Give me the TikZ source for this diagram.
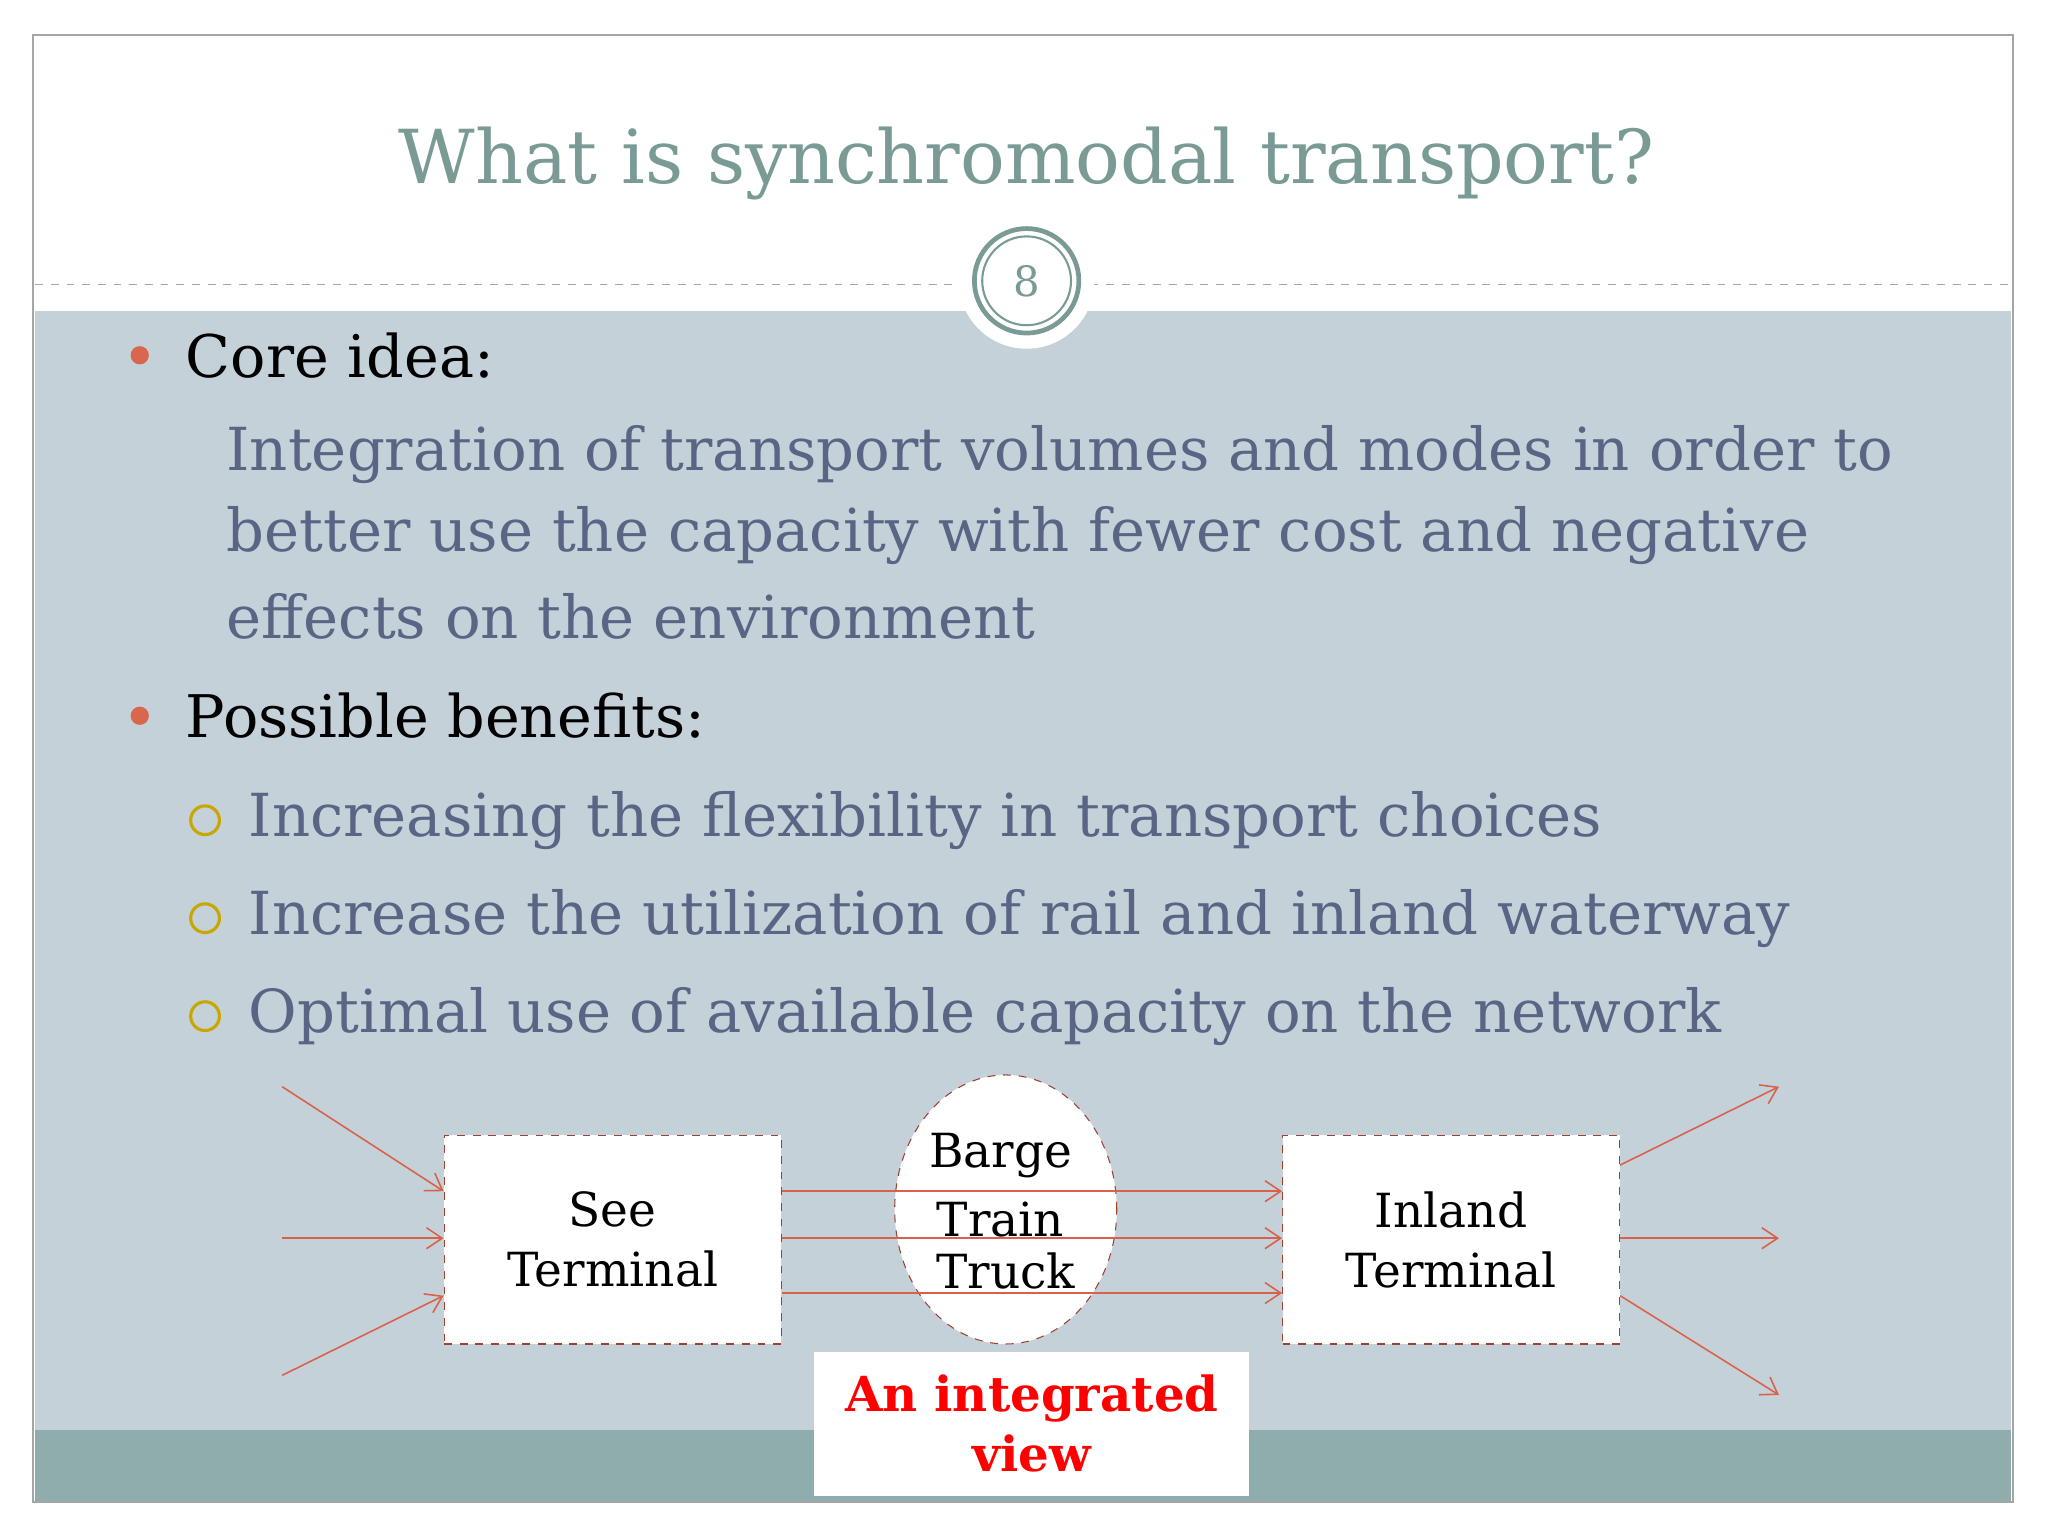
\documentclass[tikz,border=0pt]{standalone}
\usepackage{fontspec}
\setmainfont{DejaVu Serif}
\usetikzlibrary{shapes.geometric,arrows.meta}
\definecolor{bgblue}{HTML}{C5D1D8}
\definecolor{band}{HTML}{8FADAD}
\definecolor{titlec}{HTML}{7A9A95}
\definecolor{bodyc}{HTML}{5A6585}
\definecolor{arr}{HTML}{D9614A}
\definecolor{boxb}{HTML}{A04030}
\definecolor{dotc}{HTML}{D9674E}
\definecolor{subc}{HTML}{C8A800}
\tikzset{
  body/.style={anchor=west,font=\fontsize{22.7}{30}\selectfont,text=bodyc,inner sep=0},
  head/.style={anchor=west,font=\fontsize{22.5}{30}\selectfont,text=black,inner sep=0},
  term/.style={draw=boxb,dashed,fill=white,minimum width=129pt,minimum height=80pt,align=center,font=\fontsize{18}{23}\selectfont},
  conn/.style={draw=arr,line width=0.6pt,-{Straight Barb[length=6pt,width=8pt]}},
  mode/.style={font=\fontsize{18}{22}\selectfont,inner sep=0}
}
\begin{document}
\begin{tikzpicture}[x=0.5pt,y=-0.5pt]
\useasboundingbox (0,0) rectangle (1568,1176);
\fill[white] (0,0) rectangle (1568,1176);
\fill[bgblue] (27,238) rectangle (1540,1095);
\fill[band] (27,1095) rectangle (1540,1150);
\draw[gray!70,line width=0.8pt] (25,27) rectangle (1541,1150);
\draw[gray!70,dashed,line width=0.5pt] (27,218) -- (730,218);
\draw[gray!70,dashed,line width=0.5pt] (835,218) -- (1540,218);
\fill[white] (786,215) circle (52);
\draw[titlec,line width=1.8pt] (786,215) circle (40);
\draw[titlec,line width=0.8pt] (786,215) circle (34);
\node (num) at (786,215) {\fontsize{16}{16}\selectfont\color{titlec}8};
\node (title) at (786,125) {\fontsize{28.5}{36}\selectfont\color{titlec}What is synchromodal transport?};
\fill[dotc] (107,272) circle (7);
\fill[dotc] (107,548) circle (7);
\node[head] (core) at (142,272) {Core idea:};
\node[body] (p1) at (173,348) {Integration of transport volumes and modes in order to};
\node[body] (p2) at (173,410) {better use the capacity with fewer cost and negative};
\node[body] (p3) at (173,472) {effects on the environment};
\node[head] (ben) at (142,548) {Possible benefits:};
\foreach \y/\t in {628/Increasing the flexibility in transport choices,703/Increase the utilization of rail and inland waterway,778/Optimal use of available capacity on the network}{
  \draw[subc,line width=1.2pt] (157,\y) circle (11);
  \node[body] at (190,\y) {\t};
}
\node[ellipse,draw=boxb,dashed,fill=white,minimum width=85pt,minimum height=103pt,inner sep=0] (ell) at (770,926) {};
\node[term] (see) at (469,949) {See\\Terminal};
\node[term] (inl) at (1111,949) {Inland\\Terminal};
\node[mode] (barge) at (766,885) {Barge};
\node[mode] (train) at (766,934) {Train};
\node[mode] (truck) at (770,973) {Truck};
\draw[conn] (see.east |- 0,912) -- (inl.west |- 0,912);
\draw[conn] (see.east |- 0,948) -- (inl.west |- 0,948);
\draw[conn] (see.east |- 0,990) -- (inl.west |- 0,990);
\coordinate (i1) at (216,832); \coordinate (i2) at (216,948); \coordinate (i3) at (216,1053);
\coordinate (o1) at (1362,832); \coordinate (o2) at (1362,948); \coordinate (o3) at (1362,1068);
\draw[conn] (i1) -- (see.west |- 0,912);
\draw[conn] (i2) -- (see.west |- 0,948);
\draw[conn] (i3) -- (see.west |- 0,992);
\draw[conn] (inl.east |- 0,892) -- (o1);
\draw[conn] (inl.east |- 0,948) -- (o2);
\draw[conn] (inl.east |- 0,992) -- (o3);
\fill[white] (623,1035) rectangle (956,1145);
\node[align=center,text=red,font=\bfseries\fontsize{18.5}{23}\selectfont] (lab) at (790,1090) {An integrated\\view};
\end{tikzpicture}
\end{document}
